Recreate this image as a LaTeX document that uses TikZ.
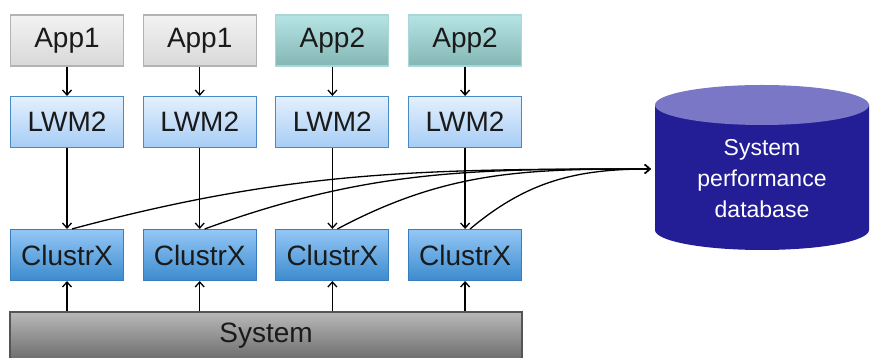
\documentclass[tikz,border=0pt]{standalone}
\usepackage{fontspec}
\setmainfont{Liberation Sans}
\usetikzlibrary{arrows.meta,positioning}
\definecolor{appatop}{HTML}{F2F2F2}
\definecolor{appabot}{HTML}{D9D9D9}
\definecolor{appaln}{HTML}{B3B3B3}
\definecolor{appbtop}{HTML}{B6E4E4}
\definecolor{appbbot}{HTML}{83B6B4}
\definecolor{appbln}{HTML}{A9D6D6}
\definecolor{lwmtop}{HTML}{E4F0FD}
\definecolor{lwmbot}{HTML}{A6CDF5}
\definecolor{lwmln}{HTML}{4A8AC4}
\definecolor{clxtop}{HTML}{94C7F5}
\definecolor{clxbot}{HTML}{3C8BCF}
\definecolor{clxln}{HTML}{3A7DBE}
\definecolor{systop}{HTML}{B9B9B9}
\definecolor{sysbot}{HTML}{6C6C6C}
\definecolor{sysln}{HTML}{555555}
\definecolor{dbbody}{HTML}{231E95}
\definecolor{dbcap}{HTML}{7A77C7}
\definecolor{txtdk}{HTML}{1A1A1A}
\tikzset{
  box/.style   = {draw, line width=1.1pt, minimum width=113pt, minimum height=51pt,
                  inner sep=0pt, text=txtdk, font=\fontsize{28}{30}\selectfont},
  appa/.style  = {box, draw=appaln, top color=appatop, bottom color=appabot},
  appb/.style  = {box, draw=appbln, top color=appbtop, bottom color=appbbot},
  lwm/.style   = {box, draw=lwmln, top color=lwmtop, bottom color=lwmbot},
  clx/.style   = {box, draw=clxln, top color=clxtop, bottom color=clxbot},
  sysbox/.style= {box, draw=sysln, top color=systop, bottom color=sysbot,
                  minimum width=512pt, minimum height=48pt},
  dbtxt/.style = {minimum width=214pt, minimum height=165pt, align=center,
                  text=white, font=\fontsize{23}{31}\selectfont},
  arr/.style   = {-{Straight Barb[length=5pt,width=9pt]}, line width=1.3pt},
}

\begin{document}
\begin{tikzpicture}[x=1pt,y=1pt]
  \useasboundingbox (0,0) rectangle (870,358);
  % the four columns
  \foreach \i/\lab/\sty in {1/App1/appa,2/App1/appa,3/App2/appb,4/App2/appb}{
    \pgfmathsetmacro{\cx}{67+132.7*(\i-1)}
    \node[\sty] (app\i) at (\cx,317.5) {\lab};
    \node[lwm]  (lwm\i) at (\cx,236)   {LWM2};
    \node[clx]  (clx\i) at (\cx,103)   {ClustrX};
  }
  \node[sysbox] (sys) at (266,22) {System};

  % database
  \fill[dbbody] (655,253) -- (655,128)
    arc[start angle=180, end angle=360, x radius=107, y radius=20] -- (869,253) -- cycle;
  \fill[dbcap] (762,253) ellipse[x radius=107, y radius=20];
  \node[dbtxt] (db) at (762,179) {System\\performance\\database};

  % connectors
  \foreach \i in {1,...,4}{
    \draw[arr] (app\i) -- (lwm\i);
    \draw[arr] (lwm\i) -- (clx\i);
    \draw[arr] (sys.north -| clx\i) -- (clx\i);
  }
  \foreach \i/\a in {1/15,2/20,3/28,4/40}
    \draw[arr] ([xshift=5pt]clx\i.north) to[out=\a, in=180] ([xshift=-4pt,yshift=10pt]db.west);
\end{tikzpicture}
\end{document}
